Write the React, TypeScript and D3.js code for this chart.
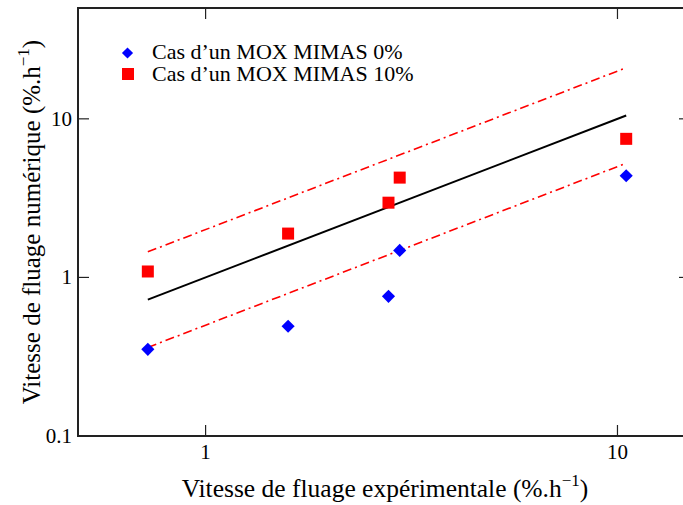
import React from "react";
import * as d3 from "d3";

const W = 683;
const H = 505;

// experimental creep rate (x) and computed creep rate (y), %.h-1
const expRate = [0.724, 1.586, 2.78, 2.96, 10.5];
const mox0 = [0.352, 0.492, 0.76, 1.48, 4.38];
const mox10 = [1.09, 1.89, 2.96, 4.26, 7.48];

// y = x line with factor-2 band
const lineX = [0.724, 10.5];
const lineMid = [0.724, 10.5];
const lineUp = [1.45, 21];
const lineLow = [0.362, 5.25];

const xTicks = [1, 10];
const yTicks = [0.1, 1, 10];

const legendLabels = ["Cas d\u2019un MOX MIMAS 0%", "Cas d\u2019un MOX MIMAS 10%"];

const frame = { left: 78, right: 690, top: 8, bottom: 436 };
const font = "'Liberation Serif', 'Times New Roman', serif";

export default function App() {
  const x = d3.scaleLog().domain([0.49, 15]).range([frame.left, frame.right]);
  const y = d3.scaleLog().domain([0.1, 50]).range([frame.bottom, frame.top]);

  const line = d3
    .line<number>()
    .x((_, i) => x(lineX[i]))
    .y((d) => y(d));

  const diamond = d3.symbol().type(d3.symbolDiamond2).size(110);

  return (
    <svg width={W} height={H} style={{ position: "absolute", left: 0, top: 0 }}>
      <rect width={W} height={H} fill="#fff" />

      {/* fit lines */}
      <path d={line(lineMid) || ""} stroke="#000" strokeWidth={2} fill="none" />
      <path d={line(lineUp) || ""} stroke="#ff0000" strokeWidth={1.6} fill="none" strokeDasharray="9,4,2,4" />
      <path d={line(lineLow) || ""} stroke="#ff0000" strokeWidth={1.6} fill="none" strokeDasharray="9,4,2,4" />

      {/* points */}
      {expRate.map((v, i) => (
        <path key={"b" + i} d={diamond() || ""} transform={`translate(${x(v)},${y(mox0[i])})`} fill="#0000ff" />
      ))}
      {expRate.map((v, i) => (
        <rect key={"r" + i} x={x(v) - 6} y={y(mox10[i]) - 6} width={12} height={12} fill="#ff0000" />
      ))}

      {/* frame */}
      <rect
        x={frame.left}
        y={frame.top}
        width={frame.right - frame.left}
        height={frame.bottom - frame.top}
        fill="none"
        stroke="#222"
        strokeWidth={2}
      />

      {/* ticks */}
      {xTicks.map((t) => (
        <g key={"xt" + t}>
          <line x1={x(t)} x2={x(t)} y1={frame.bottom} y2={frame.bottom - 11} stroke="#222" strokeWidth={1.2} />
          <line x1={x(t)} x2={x(t)} y1={frame.top} y2={frame.top + 11} stroke="#222" strokeWidth={1.2} />
          <text x={x(t)} y={459} textAnchor="middle" fontFamily={font} fontSize={21}>
            {t}
          </text>
        </g>
      ))}
      {yTicks.map((t) => (
        <g key={"yt" + t}>
          <line x1={frame.left} x2={frame.left + 11} y1={y(t)} y2={y(t)} stroke="#222" strokeWidth={1.2} />
          <line x1={frame.right} x2={frame.right - 11} y1={y(t)} y2={y(t)} stroke="#222" strokeWidth={1.2} />
          <text x={72} y={y(t) + 7} textAnchor="end" fontFamily={font} fontSize={21}>
            {t}
          </text>
        </g>
      ))}

      {/* axis titles */}
      <text x={385} y={497} textAnchor="middle" fontFamily={font} fontSize={25.5}>
        Vitesse de fluage expérimentale (%.h
        <tspan dy={-11} fontSize={17}>{"\u22121"}</tspan>
        <tspan dy={11}>)</tspan>
      </text>
      <text
        transform={`translate(40,${222}) rotate(-90)`}
        textAnchor="middle"
        fontFamily={font}
        fontSize={25}
      >
        Vitesse de fluage numérique (%.h
        <tspan dy={-11} fontSize={17}>{"\u22121"}</tspan>
        <tspan dy={11}>)</tspan>
      </text>

      {/* legend */}
      <path d={diamond.size(80)() || ""} transform="translate(127.5,53)" fill="#0000ff" />
      <rect x={122} y={68} width={12} height={12} fill="#ff0000" />
      {legendLabels.map((l, i) => (
        <text key={l} x={152} y={59 + i * 22} fontFamily={font} fontSize={22}>
          {l}
        </text>
      ))}
    </svg>
  );
}
